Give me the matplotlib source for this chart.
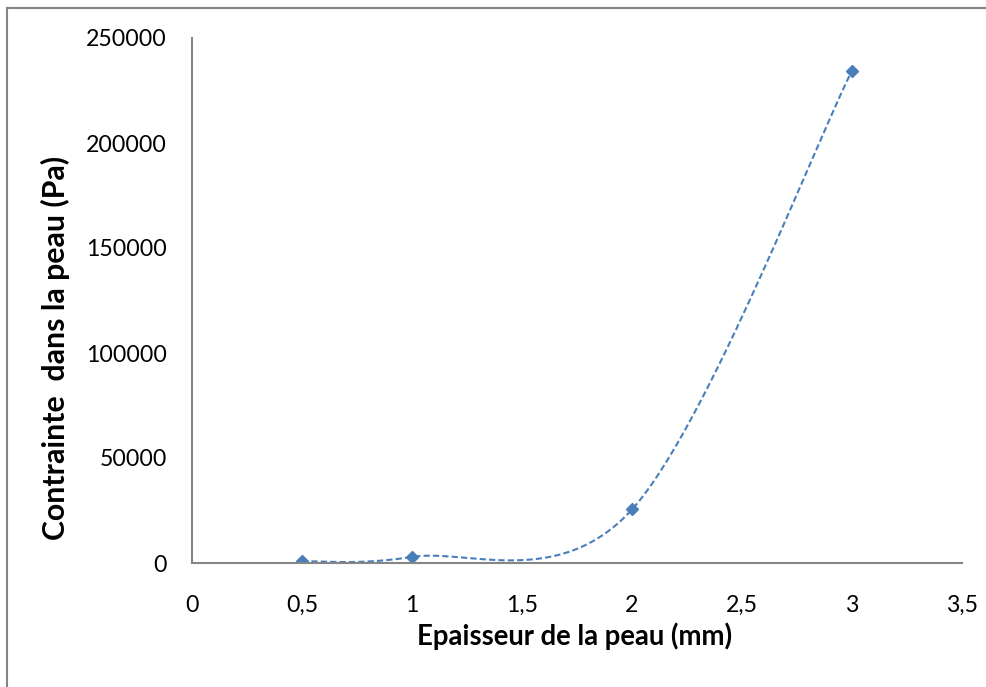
import numpy as np
import matplotlib
matplotlib.use("Agg")
import matplotlib.pyplot as plt
from matplotlib.lines import Line2D
from matplotlib.ticker import FuncFormatter

plt.rcParams['font.family'] = ['Lato', 'DejaVu Sans']

# Data
epaisseur = [0.5, 1, 2, 3]
contrainte = [800, 2900, 25500, 234500]
x_ticks = [0, 0.5, 1, 1.5, 2, 2.5, 3, 3.5]
y_ticks = [0, 50000, 100000, 150000, 200000, 250000]
x_label = "Epaisseur de la peau (mm)"
y_label = "Contrainte  dans la peau (Pa)"

color = "#4a7ebb"
axis_color = "#868686"

W, H = 987, 687

def smooth(xs, ys, n=60):
    xs = np.asarray(xs, float); ys = np.asarray(ys, float)
    px = np.concatenate([[xs[0]], xs, [xs[-1]]])
    py = np.concatenate([[ys[0]], ys, [ys[-1]]])
    ox, oy = [], []
    t = np.linspace(0, 1, n)
    for i in range(1, len(px) - 2):
        p0 = np.array([px[i], py[i]]); p3 = np.array([px[i+1], py[i+1]])
        c1 = p0 + (np.array([px[i+1], py[i+1]]) - np.array([px[i-1], py[i-1]])) / 6
        c2 = p3 - (np.array([px[i+2], py[i+2]]) - np.array([px[i], py[i]])) / 6
        b = ((1-t)**3)[:, None]*p0 + (3*(1-t)**2*t)[:, None]*c1 + (3*(1-t)*t**2)[:, None]*c2 + (t**3)[:, None]*p3
        ox.extend(b[:, 0]); oy.extend(b[:, 1])
    return np.array(ox), np.array(oy)

fig = plt.figure(figsize=(W/100, H/100), dpi=100)
ax = fig.add_axes([192/W, 1-563/H, (962-192)/W, (563-38)/H])
renderer = fig.canvas.get_renderer()

def fit(txt, target_px, along='w'):
    for _ in range(4):
        bb = txt.get_window_extent(renderer)
        cur = bb.width if along == 'w' else bb.height
        txt.set_fontsize(txt.get_fontsize() * target_px / cur)

sx, sy = smooth(epaisseur, contrainte)
ax.plot(sx, sy, color=color, lw=1.5, ls=(0, (3, 1.5)))
ax.plot(epaisseur, contrainte, ls='none', marker='D', ms=6.5, color=color)

ax.set_xlim(0, 3.5)
ax.set_ylim(0, 250000)
ax.set_xticks(x_ticks)
ax.set_yticks(y_ticks)
ax.xaxis.set_major_formatter(FuncFormatter(lambda v, p: ('%g' % v).replace('.', ',')))
ax.yaxis.set_major_formatter(FuncFormatter(lambda v, p: '%d' % v))

# tick label size fitted so "250000" spans ~80 px as in the reference
probe = fig.text(0, 0, "250000", fontsize=16)
fit(probe, 80)
tick_fs = probe.get_fontsize()
probe.remove()

ax.tick_params(length=0, labelsize=tick_fs)
ax.tick_params(axis='x', pad=23)
ax.tick_params(axis='y', pad=18)
for s in ['top', 'right']:
    ax.spines[s].set_visible(False)
for s in ['left', 'bottom']:
    ax.spines[s].set_color(axis_color)
    ax.spines[s].set_linewidth(1.5)

xl = fig.text(575/W, 1-645/H, x_label, fontweight='bold', fontsize=20,
              ha='center', va='baseline')
fit(xl, 316)
yl = fig.text(65/W, 1-348/H, y_label, fontweight='bold', fontsize=20,
              rotation=90, rotation_mode='anchor', ha='center', va='baseline')
fit(yl, 384, along='h')

# outer chart border (left and top visible)
fig.add_artist(Line2D([6.5/W, 6.5/W], [0, 1-8/H], color=axis_color, lw=1.5, transform=fig.transFigure))
fig.add_artist(Line2D([6.5/W, 1], [1-8/H, 1-8/H], color=axis_color, lw=1.5, transform=fig.transFigure))

fig.savefig("out.png", dpi=100)
